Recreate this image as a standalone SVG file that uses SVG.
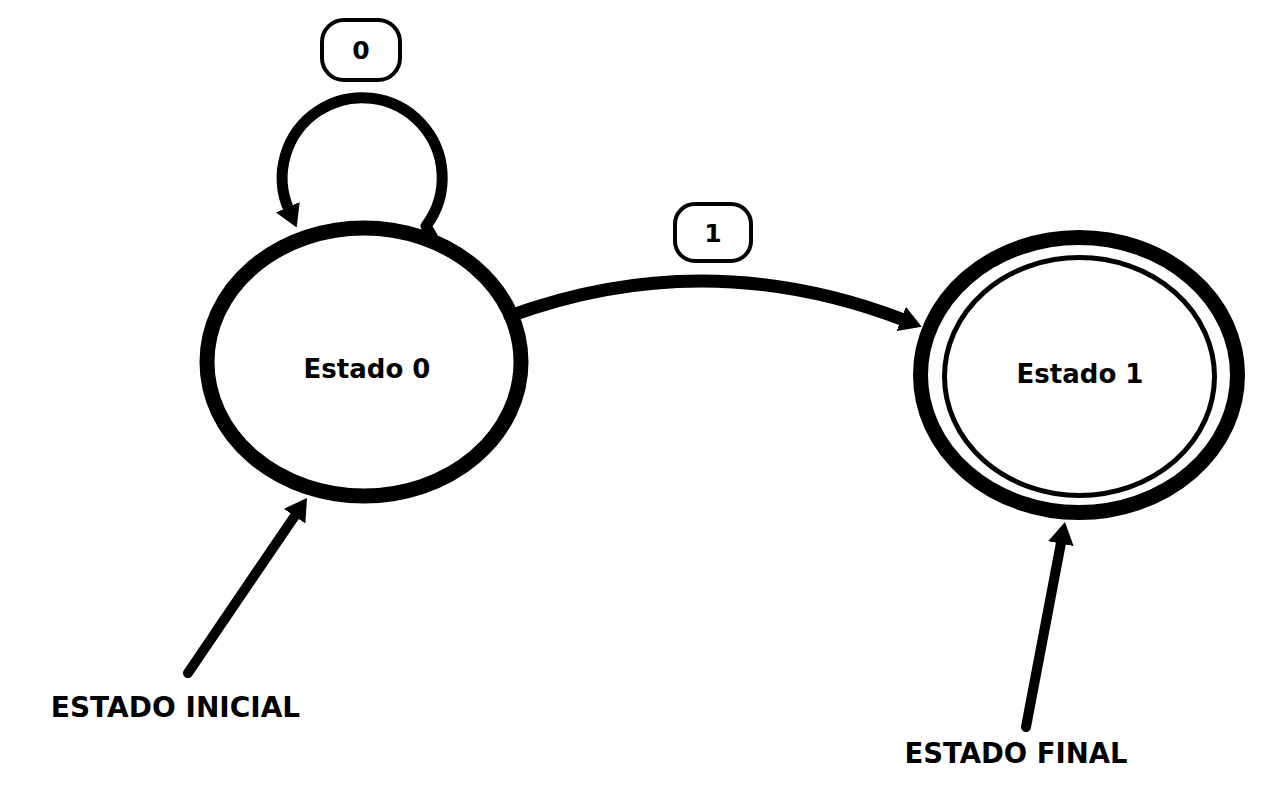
<svg xmlns="http://www.w3.org/2000/svg" width="1284" height="788" viewBox="0 0 1284 788">
<style>
  .state { fill: #ffffff; stroke: #000000; stroke-width: 15; }
  .inner { fill: none; stroke: #000000; stroke-width: 5; }
  .lbl { font-family: "DejaVu Sans", "Open Sans", sans-serif; font-weight: 700; fill: #000000; text-anchor: middle; }
  .box { fill: #ffffff; stroke: #000000; stroke-width: 4; }
  .edge { fill: none; stroke: #000000; stroke-linecap: round; stroke-linejoin: round; }
</style>
<defs>
  <marker id="arrow" markerUnits="userSpaceOnUse" markerWidth="24" markerHeight="26" refX="3" refY="13" orient="auto" viewBox="0 0 24 26">
    <path d="M0,0 L22,13 L0,26 z" fill="#000000"/>
  </marker>
</defs>
<rect width="1284" height="788" fill="#ffffff"/>

<g id="estado0">
  <ellipse class="state" cx="364" cy="362" rx="157" ry="134"/>
  <text class="lbl" x="367" y="378" font-size="26">Estado 0</text>
</g>

<g id="estado1">
  <ellipse class="state" cx="1079" cy="375" rx="158.5" ry="137.5"/>
  <ellipse class="inner" cx="1079.5" cy="376.5" rx="135" ry="119"/>
  <text class="lbl" x="1080" y="383" font-size="26">Estado 1</text>
</g>

<g id="connectors">
  <path class="edge" stroke-width="11" d="M432 236 L426 226 A80 80 0 1 0 289 210" marker-end="url(#arrow)"/>
  <path class="edge" stroke-width="13" d="M510 316 Q706 244 904 320" marker-end="url(#arrow)"/>
  <path class="edge" stroke-width="10" d="M188 673 L296.3 513.7" marker-end="url(#arrow)"/>
  <path class="edge" stroke-width="10" d="M1026 727 L1061.4 540.7" marker-end="url(#arrow)"/>
</g>

<g id="label0">
  <rect class="box" x="322" y="20" width="78" height="60" rx="22"/>
  <text class="lbl" x="361" y="59" font-size="25">0</text>
</g>
<g id="label1">
  <rect class="box" x="675" y="204" width="76" height="57" rx="20"/>
  <text class="lbl" x="713" y="242" font-size="25">1</text>
</g>

<g id="inicial">
  <text class="lbl" x="175.5" y="717" font-size="28">ESTADO INICIAL</text>
</g>
<g id="final">
  <text class="lbl" x="1016" y="763" font-size="27.5">ESTADO FINAL</text>
</g>
</svg>
